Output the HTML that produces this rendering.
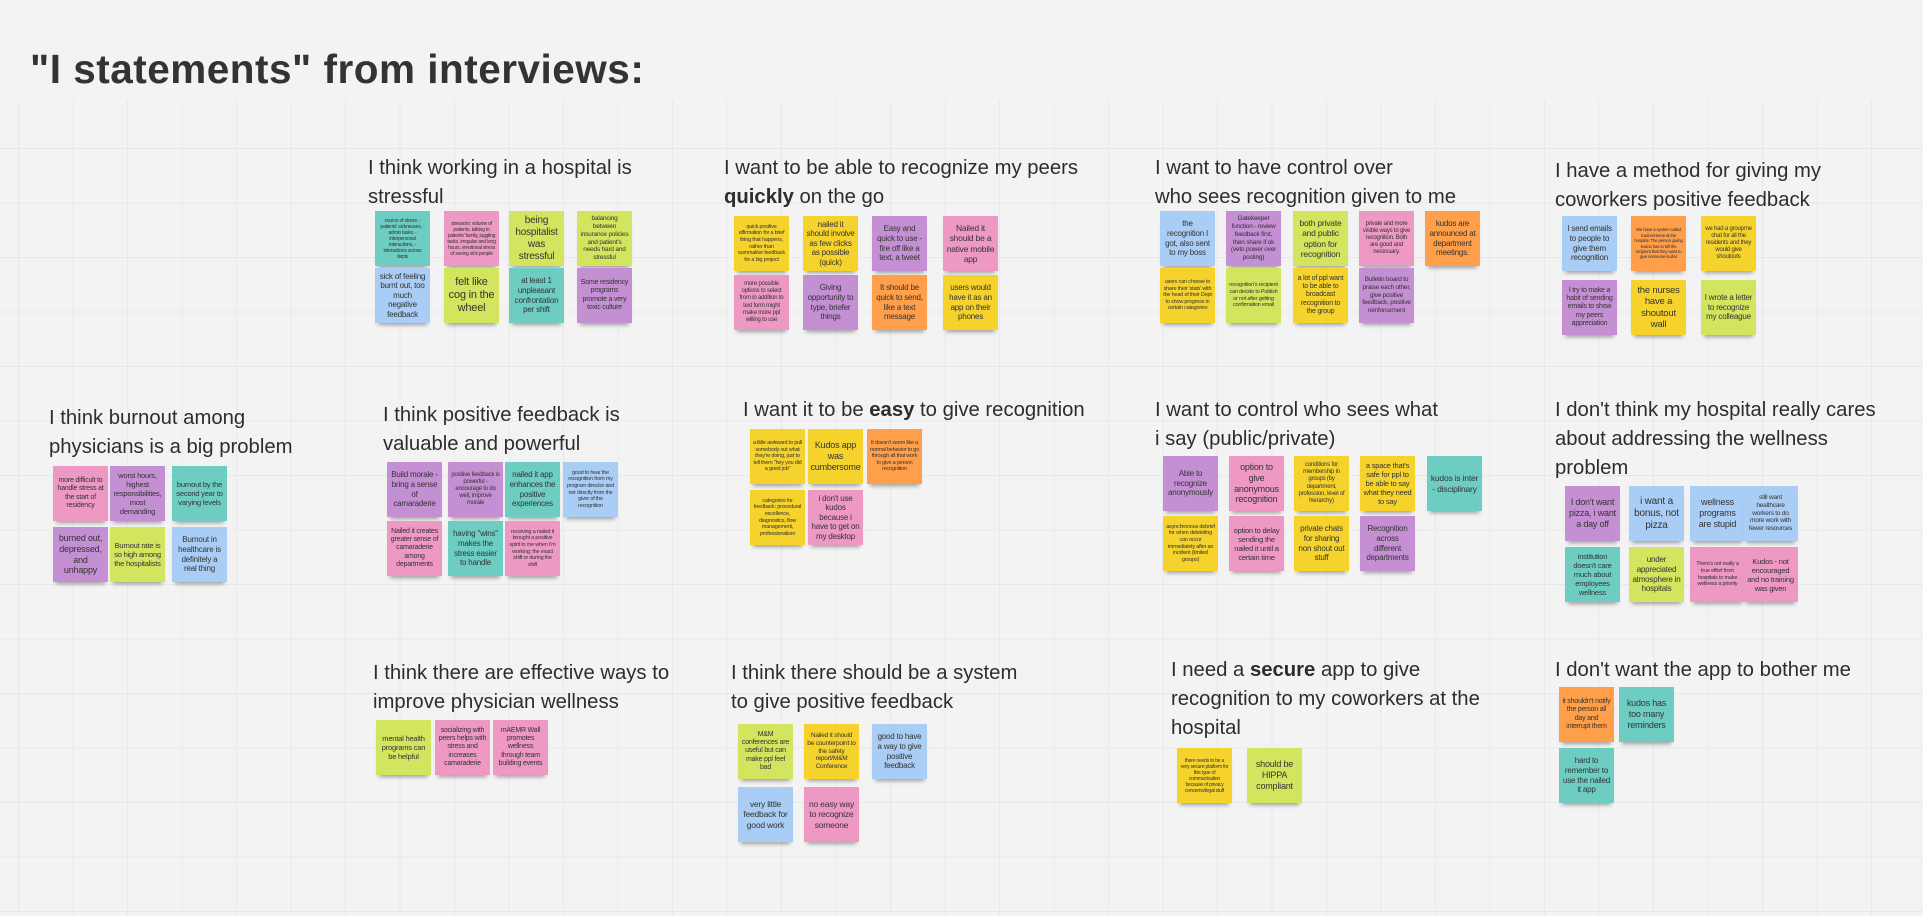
<!DOCTYPE html>
<html><head><meta charset="utf-8"><style>
html,body{margin:0;padding:0}
body{width:1923px;height:916px;position:relative;overflow:hidden;background:#f3f3f3;font-family:"Liberation Sans",sans-serif;}
.grid{position:absolute;left:0;top:100px;width:1923px;height:816px;
background-image:linear-gradient(to right,#e8e8e8 1px,transparent 1px),linear-gradient(to bottom,#e8e8e8 1px,transparent 1px);
background-size:54.5px 54.5px;background-position:18px 48px;}
.title{position:absolute;left:30px;top:46px;font-size:40.5px;font-weight:bold;color:#333;letter-spacing:0.5px;white-space:nowrap}
.h{position:absolute;font-size:20.3px;line-height:29px;color:#2d2d2d;white-space:nowrap}
.n{position:absolute;width:55px;height:55px;display:flex;align-items:center;justify-content:center;text-align:center;color:#333;line-height:1.2;padding:3px;box-sizing:border-box;overflow:hidden;box-shadow:0 5px 4px -3px rgba(0,0,0,0.35);letter-spacing:-0.2px}
.t{background:#6dcdc3}.p{background:#ee98c4}.l{background:#d3e55e}.y{background:#f6d32c}.o{background:#ff9f4a}.u{background:#c58fd3}.b{background:#a9cdf4}
</style></head><body>
<div class="grid"></div>
<div class="title">"I statements" from interviews:</div>

<!-- A -->
<div class="h" style="left:368px;top:154px">I think working in a hospital is<br>stressful</div>
<div class="n t" style="left:375px;top:211px;font-size:5px">source of stress: - patients' sicknesses, - admin tasks, - interpersonal interactions, - interactions across depts</div>
<div class="n p" style="left:444px;top:211px;font-size:5px">stressors: volume of patients, talking to patients' family, juggling tasks, irregular and long hours, emotional stress of seeing sick people</div>
<div class="n l" style="left:509px;top:211px;font-size:10px">being hospitalist was stressful</div>
<div class="n l" style="left:577px;top:211px;font-size:6.5px">balancing between insurance policies and patient's needs hard and stressful</div>
<div class="n b" style="left:375px;top:268px;font-size:8px">sick of feeling burnt out, too much negative feedback</div>
<div class="n l" style="left:444px;top:268px;font-size:11px">felt like cog in the wheel</div>
<div class="n t" style="left:509px;top:268px;font-size:8px">at least 1 unpleasant confrontation per shift</div>
<div class="n u" style="left:577px;top:268px;font-size:7px">Some residency programs promote a very toxic culture</div>

<!-- B -->
<div class="h" style="left:724px;top:154px">I want to be able to recognize my peers<br><b>quickly</b> on the go</div>
<div class="n y" style="left:734px;top:216px;font-size:5.5px">quick positive affirmation for a brief thing that happens, rather than summative feedback for a big project</div>
<div class="n y" style="left:803px;top:216px;font-size:8px">nailed it should involve as few clicks as possible (quick)</div>
<div class="n u" style="left:872px;top:216px;font-size:8px">Easy and quick to use - fire off like a text, a tweet</div>
<div class="n p" style="left:943px;top:216px;font-size:8.5px">Nailed it should be a native mobile app</div>
<div class="n p" style="left:734px;top:275px;font-size:6px">more possible options to select from in addition to text form might make more ppl willing to use</div>
<div class="n u" style="left:803px;top:275px;font-size:8px">Giving opportunity to type, briefer things</div>
<div class="n o" style="left:872px;top:275px;font-size:8px">It should be quick to send, like a text message</div>
<div class="n y" style="left:943px;top:275px;font-size:8px">users would have it as an app on their phones</div>

<!-- C -->
<div class="h" style="left:1155px;top:154px">I want to have control over<br>who sees recognition given to me</div>
<div class="n b" style="left:1160px;top:211px;font-size:8px">the recognition I got, also sent to my boss</div>
<div class="n u" style="left:1226px;top:211px;font-size:6.5px">Gatekeeper function - review feedback first, then share if ok (veto power over posting)</div>
<div class="n l" style="left:1293px;top:211px;font-size:8.5px">both private and public option for recognition</div>
<div class="n p" style="left:1359px;top:211px;font-size:6px">private and more visible ways to give recognition. Both are good and necessary.</div>
<div class="n o" style="left:1425px;top:211px;font-size:8px">kudos are announced at department meetings.</div>
<div class="n y" style="left:1160px;top:268px;font-size:5.5px">users can choose to share their 'stats' with the head of their Dept to show progress in certain categories</div>
<div class="n l" style="left:1226px;top:268px;font-size:5.5px">recognition's recipient can decide to Publish or not after getting confirmation email</div>
<div class="n y" style="left:1293px;top:268px;font-size:7px">a lot of ppl want to be able to broadcast recognition to the group</div>
<div class="n u" style="left:1359px;top:268px;font-size:6.5px">Bulletin board to praise each other, give positive feedback, positive reinforcement</div>

<!-- D -->
<div class="h" style="left:1555px;top:157px">I have a method for giving my<br>coworkers positive feedback</div>
<div class="n b" style="left:1562px;top:216px;font-size:8px">I send emails to people to give them recognition</div>
<div class="n o" style="left:1631px;top:216px;font-size:4.5px">We have a system called Kudos/Home at the hospital. The person giving kudos has to tell the recipient that they want to give someone kudos</div>
<div class="n y" style="left:1701px;top:216px;font-size:6px">we had a groupme chat for all the residents and they would give shoutouts</div>
<div class="n u" style="left:1562px;top:280px;font-size:7px">I try to make a habit of sending emails to show my peers appreciation</div>
<div class="n y" style="left:1631px;top:280px;font-size:9.5px">the nurses have a shoutout wall</div>
<div class="n l" style="left:1701px;top:280px;font-size:8px">I wrote a letter to recognize my colleague</div>

<!-- E -->
<div class="h" style="left:49px;top:404px">I think burnout among<br>physicians is a big problem</div>
<div class="n p" style="left:53px;top:466px;font-size:7px">more difficult to handle stress at the start of residency</div>
<div class="n u" style="left:110px;top:466px;font-size:7.5px">worst hours, highest responsibilities, most demanding</div>
<div class="n t" style="left:172px;top:466px;font-size:7.5px">burnout by the second year to varying levels</div>
<div class="n u" style="left:53px;top:527px;font-size:9px">burned out, depressed, and unhappy</div>
<div class="n l" style="left:110px;top:527px;font-size:7.5px">Burnout rate is so high among the hospitalists</div>
<div class="n b" style="left:172px;top:527px;font-size:8px">Burnout in healthcare is definitely a real thing</div>

<!-- F -->
<div class="h" style="left:383px;top:401px">I think positive feedback is<br>valuable and powerful</div>
<div class="n u" style="left:387px;top:462px;font-size:8px">Build morale - bring a sense of camaraderie</div>
<div class="n u" style="left:448px;top:462px;font-size:6px">positive feedback is powerful - encourage to do well, improve morale</div>
<div class="n t" style="left:505px;top:462px;font-size:8px">nailed it app enhances the positive experiences</div>
<div class="n b" style="left:563px;top:462px;font-size:5.5px">good to hear the recognition from my program director and not directly from the giver of the recognition</div>
<div class="n p" style="left:387px;top:521px;font-size:7px">Nailed it creates greater sense of camaraderie among departments</div>
<div class="n t" style="left:448px;top:521px;font-size:8px">having "wins" makes the stress easier to handle</div>
<div class="n p" style="left:505px;top:521px;font-size:5.5px">receiving a nailed it brought a positive spirit to me when I'm working; the exact shift or during the shift</div>

<!-- G -->
<div class="h" style="left:743px;top:396px">I want it to be <b>easy</b> to give recognition</div>
<div class="n y" style="left:750px;top:429px;font-size:5.5px">a little awkward to pull somebody out what they're doing, just to tell them "hey you did a good job"</div>
<div class="n y" style="left:808px;top:429px;font-size:9px">Kudos app was cumbersome</div>
<div class="n o" style="left:867px;top:429px;font-size:5.5px">It doesn't seem like a normal behavior to go through all that work to give a person recognition</div>
<div class="n y" style="left:750px;top:490px;font-size:5.5px">categories for feedback: procedural excellence, diagnostics, flow management, professionalism</div>
<div class="n p" style="left:808px;top:490px;font-size:8px">i don't use kudos because i have to get on my desktop</div>

<!-- H -->
<div class="h" style="left:1155px;top:396px">I want to control who sees what<br>i say (public/private)</div>
<div class="n u" style="left:1163px;top:456px;font-size:8px">Able to recognize anonymously</div>
<div class="n p" style="left:1229px;top:456px;font-size:9px">option to give anonymous recognition</div>
<div class="n y" style="left:1294px;top:456px;font-size:6px">conditions for membership in groups (by department, profession, level of hierarchy)</div>
<div class="n y" style="left:1360px;top:456px;font-size:7.5px">a space that's safe for ppl to be able to say what they need to say</div>
<div class="n t" style="left:1427px;top:456px;font-size:8.5px">kudos is inter - disciplinary</div>
<div class="n y" style="left:1163px;top:516px;font-size:5.5px">asynchronous debrief for when debriefing can occur immediately after an incident (limited groups)</div>
<div class="n p" style="left:1229px;top:516px;font-size:7.5px">option to delay sending the nailed it until a certain time</div>
<div class="n y" style="left:1294px;top:516px;font-size:8px">private chats for sharing non shout out stuff</div>
<div class="n u" style="left:1360px;top:516px;font-size:8px">Recognition across different departments</div>

<!-- I -->
<div class="h" style="left:1555px;top:396px">I don't think my hospital really cares<br>about addressing the wellness<br>problem</div>
<div class="n u" style="left:1565px;top:486px;font-size:9px">I don't want pizza, i want a day off</div>
<div class="n b" style="left:1629px;top:486px;font-size:10px">i want a bonus, not pizza</div>
<div class="n b" style="left:1690px;top:486px;font-size:9px">wellness programs are stupid</div>
<div class="n b" style="left:1743px;top:486px;font-size:6.5px">still want healthcare workers to do more work with fewer resources</div>
<div class="n t" style="left:1565px;top:547px;font-size:7.5px">institution doesn't care much about employees wellness</div>
<div class="n l" style="left:1629px;top:547px;font-size:8px">under appreciated atmosphere in hospitals</div>
<div class="n p" style="left:1690px;top:547px;font-size:5.5px">There's not really a true effort from hospitals to make wellness a priority</div>
<div class="n p" style="left:1743px;top:547px;font-size:7.5px">Kudos - not encouraged and no training was given</div>

<!-- J -->
<div class="h" style="left:373px;top:659px">I think there are effective ways to<br>improve physician wellness</div>
<div class="n l" style="left:376px;top:720px;font-size:7.5px">mental health programs can be helpful</div>
<div class="n p" style="left:435px;top:720px;font-size:7px">socializing with peers helps with stress and increases camaraderie</div>
<div class="n p" style="left:493px;top:720px;font-size:7px">mAEMR Wall promotes wellness through team building events</div>

<!-- K -->
<div class="h" style="left:731px;top:659px">I think there should be a system<br>to give positive feedback</div>
<div class="n l" style="left:738px;top:724px;font-size:7px">M&amp;M conferences are useful but can make ppl feel bad</div>
<div class="n y" style="left:804px;top:724px;font-size:6.5px">Nailed it should be counterpoint to the safety report/M&amp;M Conference</div>
<div class="n b" style="left:872px;top:724px;font-size:8px">good to have a way to give positive feedback</div>
<div class="n b" style="left:738px;top:787px;font-size:8.5px">very little feedback for good work</div>
<div class="n p" style="left:804px;top:787px;font-size:8.5px">no easy way to recognize someone</div>

<!-- L -->
<div class="h" style="left:1171px;top:656px">I need a <b>secure</b> app to give<br>recognition to my coworkers at the<br>hospital</div>
<div class="n y" style="left:1177px;top:748px;font-size:5px">there needs to be a very secure platform for this type of communication because of privacy concerns/legal stuff</div>
<div class="n l" style="left:1247px;top:748px;font-size:9px">should be HIPPA compliant</div>

<!-- M -->
<div class="h" style="left:1555px;top:656px">I don't want the app to bother me</div>
<div class="n o" style="left:1559px;top:687px;font-size:7px">it shouldn't notify the person all day and interrupt them</div>
<div class="n t" style="left:1619px;top:687px;font-size:9px">kudos has too many reminders</div>
<div class="n t" style="left:1559px;top:748px;font-size:8px">hard to remember to use the nailed it app</div>
</body></html>
